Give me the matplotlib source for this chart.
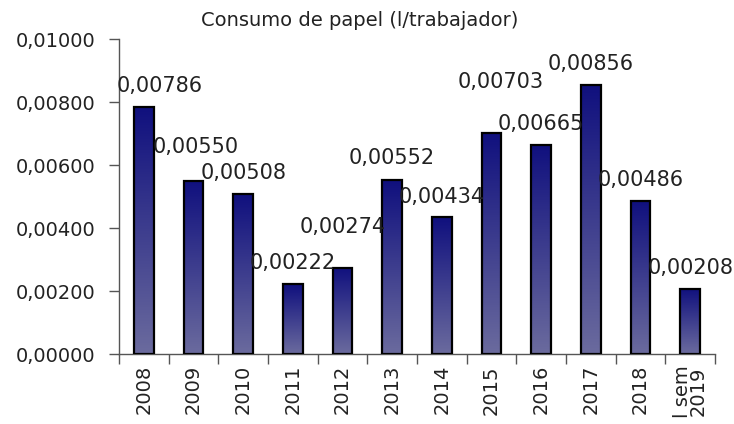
import numpy as np
import matplotlib.pyplot as plt
from matplotlib.colors import LinearSegmentedColormap
from matplotlib.ticker import FixedLocator, FuncFormatter

years = ['2008', '2009', '2010', '2011', '2012', '2013', '2014', '2015',
         '2016', '2017', '2018', 'l sem\n2019']
consumo = [0.00786, 0.00550, 0.00508, 0.00222, 0.00274, 0.00552,
           0.00434, 0.00703, 0.00665, 0.00856, 0.00486, 0.00208]
yticks = [0.0, 0.002, 0.004, 0.006, 0.008, 0.010]

# label offsets in pixels from the top centre of each bar (hand placed, like Excel)
lab_dx = [16, 2, 0, 0, 0, 0, 0, 9, 0, 0, 0, 0]
lab_dy = [21, 34, 21, 21, 41, 22, 20, 51, 21, 21, 21, 21]

plt.rcParams['font.family'] = 'DejaVu Sans'
txt = '#222222'

fig = plt.figure(figsize=(7.34, 4.24), dpi=100)
ax = fig.add_axes([119 / 734, 1 - 354 / 424, 596 / 734, (354 - 39.3) / 424])

cmap = LinearSegmentedColormap.from_list('azul', ['#6b6b9e', '#10107e'])
grad = np.linspace(0, 1, 256).reshape(-1, 1)
w = 0.4
x = np.arange(len(years)) + 0.5
for xi, v in zip(x, consumo):
    ax.imshow(grad, extent=[xi - w / 2, xi + w / 2, 0, v], origin='lower',
              aspect='auto', cmap=cmap, zorder=2)
bars = ax.bar(x, consumo, width=w, facecolor='none', edgecolor='black',
              linewidth=1.6, zorder=3)

for xi, v, dx, dy in zip(x, consumo, lab_dx, lab_dy):
    ax.annotate(f'{v:.5f}'.replace('.', ','), (xi, v), xytext=(dx, dy),
                textcoords='offset pixels', ha='center', va='center',
                fontsize=15, color=txt, zorder=4)

ax.set_xlim(0, len(years))
ax.set_ylim(0, 0.010)
ax.set_yticks(yticks)
ax.yaxis.set_major_formatter(FuncFormatter(lambda v, p: f'{v:.5f}'.replace('.', ',')))
ax.xaxis.set_major_locator(FixedLocator(np.arange(len(years) + 1)))
ax.xaxis.set_major_formatter(FuncFormatter(lambda v, p: ''))
ax.xaxis.set_minor_locator(FixedLocator(x))
ax.set_xticklabels(years, minor=True, rotation=90, fontsize=14, color=txt,
                   linespacing=0.8)
ax.tick_params(axis='x', which='minor', length=0, pad=8)
ax.tick_params(axis='both', which='major', length=7, width=1, color='#555555',
               direction='out')
ax.tick_params(axis='y', labelsize=14, labelcolor=txt, pad=10)

for s in ['top', 'right']:
    ax.spines[s].set_visible(False)
for s in ['left', 'bottom']:
    ax.spines[s].set_color('#555555')
    ax.spines[s].set_linewidth(1)

fig.text(360 / 734, 1 - 20 / 424, 'Consumo de papel (l/trabajador)',
         ha='center', va='center', fontsize=14, color=txt)

fig.savefig('out.png', dpi=100)
